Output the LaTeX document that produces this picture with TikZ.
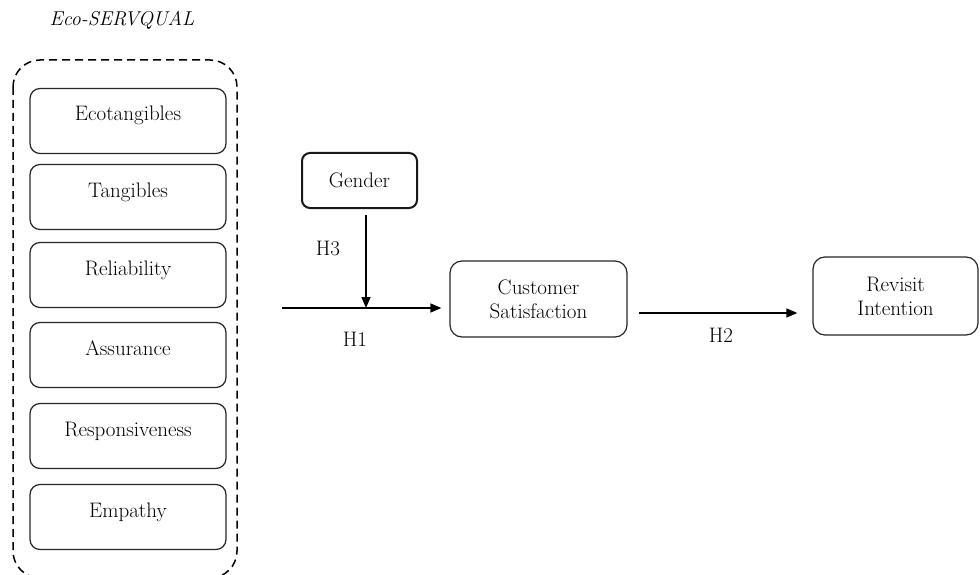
\documentclass[tikz,border=0pt]{standalone}
\usetikzlibrary{arrows.meta}
\begin{document}
\begin{tikzpicture}[x=1pt,y=-1pt,
  every node/.style={font=\fontsize{21}{24}\selectfont},
  dimbox/.style={draw=black!85, line width=1.2pt, rounded corners=10pt,
    minimum width=196pt, minimum height=65pt, text height=14pt, text depth=14pt, inner sep=0pt},
  mainbox/.style={draw=black!85, line width=1.2pt, rounded corners=12pt, align=center, inner sep=0pt},
  arr/.style={line width=1.5pt, -{Triangle[length=11pt,width=9pt]}},
  lbl/.style={inner sep=0pt}]
\useasboundingbox (0,0) rectangle (980,575);
\node[lbl, font=\fontsize{20}{24}\selectfont\itshape] (title) at (122,20) {Eco-SERVQUAL};
\draw[line width=1.5pt, dash pattern=on 8pt off 5pt, rounded corners=27pt] (13,60) rectangle (237,578);
\node[dimbox] (eco) at (128,121) {Ecotangibles};
\node[dimbox] (tan) at (128,197) {Tangibles};
\node[dimbox] (rel) at (128,275) {Reliability};
\node[dimbox] (ass) at (128,355) {Assurance};
\node[dimbox] (res) at (128,436) {Responsiveness};
\node[dimbox] (emp) at (128,517) {Empathy};
\node[draw=black!90, line width=2pt, rounded corners=8pt, minimum width=115pt, minimum height=55pt, inner sep=0pt] (gen) at (359.5,180.5) {Gender};
\node[mainbox, minimum width=177pt, minimum height=76pt] (cs) at (538.5,299) {Customer\\Satisfaction};
\node[mainbox, minimum width=165pt, minimum height=78pt] (ri) at (895.5,296) {Revisit\\Intention};
\coordinate (h1s) at (282,308);
\coordinate (j) at (366,308);
\coordinate (h2s) at (639,313);
\draw[arr, shorten >=8pt] (h1s) -- (h1s -| cs.west);
\draw[arr] ([yshift=-6pt]gen.south -| j) -- (j);
\draw[arr, shorten >=15pt] (h2s) -- (h2s -| ri.west);
\node[lbl] (h3) at (328,248) {H3};
\node[lbl] (h1) at (355,339) {H1};
\node[lbl] (h2) at (721,335) {H2};
\end{tikzpicture}
\end{document}
